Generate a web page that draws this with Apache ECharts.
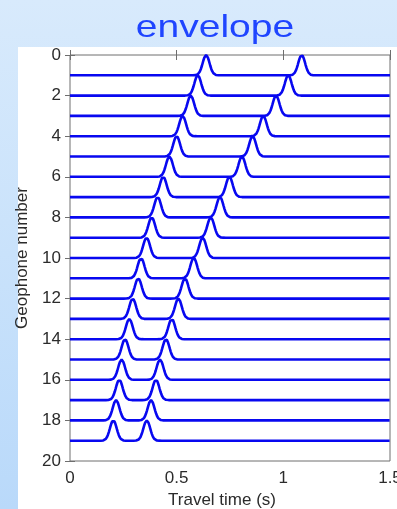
<!DOCTYPE html>
<html>
<head>
<meta charset="utf-8">
<script src="https://cdn.jsdelivr.net/npm/echarts@6/dist/echarts.min.js"></script>
<style>
  html, body { margin: 0; padding: 0; }
  body { width: 397px; height: 509px; overflow: hidden; position: relative;
         background: linear-gradient(to bottom, #d8eafc 0%, #c9e2fb 50%, #b9d9fa 100%); }
  #panel { position: absolute; left: 18px; top: 47px; width: 379px; height: 462px; background: #ffffff; }
  #chart { position: absolute; left: 0; top: 0; width: 397px; height: 509px; }
</style>
</head>
<body>
<div id="panel"></div>
<div id="chart"></div>
<script>
// Geophone baselines (y position of each trace)
const geophones = [1, 2, 3, 4, 5, 6, 7, 8, 9, 10, 11, 12, 13, 14, 15, 16, 17, 18, 19];
// Peak times of the first arrival (s)
const firstArrival = [0.638, 0.599, 0.566, 0.528, 0.500, 0.466, 0.437, 0.411, 0.383, 0.359,
                      0.333, 0.320, 0.294, 0.278, 0.258, 0.242, 0.231, 0.216, 0.203];
// Peak times of the second arrival (s)
const secondArrival = [1.086, 1.023, 0.966, 0.906, 0.856, 0.806, 0.747, 0.703, 0.660, 0.622,
                       0.580, 0.539, 0.508, 0.477, 0.450, 0.422, 0.403, 0.380, 0.360];
// Axis ranges
const xRange = [0, 1.5];
const yRange = [0, 20];
const pulseWidth = 0.016;  // envelope pulse width (s)
const amplitude = 1;       // envelope height in trace units

const chart = echarts.init(document.getElementById('chart'), null, { renderer: 'canvas' });

function envelopeTrace(base, t1, t2) {
  const pts = [];
  const n = 750;
  for (let k = 0; k <= n; k++) {
    const t = xRange[0] + (xRange[1] - xRange[0]) * k / n;
    const e = Math.exp(-0.5 * Math.pow((t - t1) / pulseWidth, 2)) +
              Math.exp(-0.5 * Math.pow((t - t2) / pulseWidth, 2));
    pts.push([t, base - amplitude * e]);
  }
  return pts;
}

const series = geophones.map((g, i) => ({
  type: 'line',
  name: 'Geophone ' + g,
  data: envelopeTrace(g, firstArrival[i], secondArrival[i]),
  showSymbol: false,
  symbol: 'none',
  smooth: false,
  lineStyle: { color: '#0808f0', width: 2.6 },
  animation: false,
  z: 3
}));

const tickColor = '#6e6e6e';
const labelStyle = { color: '#2b2b2b', fontSize: 17, fontFamily: 'Liberation Sans, Arial, sans-serif' };

chart.setOption({
  animation: false,
  backgroundColor: 'transparent',
  grid: { left: 70, right: 7, top: 55, bottom: 48, containLabel: false, outerBoundsMode: 'none',
          show: true, borderColor: tickColor, borderWidth: 1, backgroundColor: 'transparent' },
  graphic: [{
    type: 'text',
    x: 215, y: 28,
    scaleX: 1.22,
    style: {
      text: 'envelope',
      fill: '#1f45ff',
      font: '32px "Liberation Sans", Arial, sans-serif',
      textAlign: 'center',
      textVerticalAlign: 'middle'
    },
    z: 10
  }],
  xAxis: [{
    type: 'value', min: xRange[0], max: xRange[1], interval: 0.5, position: 'bottom',
    name: 'Travel time (s)', nameLocation: 'middle', nameGap: 28,
    nameTextStyle: { color: '#2b2b2b', fontSize: 17, fontFamily: 'Liberation Sans, Arial, sans-serif', padding: [0, 16, 0, 0] },
    axisLine: { show: false },
    axisTick: { show: true, inside: true, length: 5, lineStyle: { color: tickColor } },
    axisLabel: Object.assign({ margin: 9, showMaxLabel: true, formatter: v => String(v) }, labelStyle),
    splitLine: { show: false }
  }, {
    type: 'value', min: xRange[0], max: xRange[1], interval: 0.5, position: 'top',
    axisLine: { show: false },
    axisTick: { show: true, inside: true, length: 5, lineStyle: { color: tickColor } },
    axisLabel: { show: false },
    splitLine: { show: false }
  }],
  yAxis: [{
    type: 'value', min: yRange[0], max: yRange[1], interval: 2, inverse: true, position: 'left',
    name: 'Geophone number', nameLocation: 'middle', nameGap: 35,
    nameTextStyle: { color: '#2b2b2b', fontSize: 17, fontFamily: 'Liberation Sans, Arial, sans-serif' },
    axisLine: { show: false },
    axisTick: { show: true, inside: true, length: 5, lineStyle: { color: tickColor } },
    axisLabel: Object.assign({ margin: 9 }, labelStyle),
    splitLine: { show: false }
  }, {
    type: 'value', min: yRange[0], max: yRange[1], interval: 2, inverse: true, position: 'right',
    axisLine: { show: false },
    axisTick: { show: true, inside: true, length: 5, lineStyle: { color: tickColor } },
    axisLabel: { show: false },
    splitLine: { show: false }
  }],
  series: series
});
</script>
</body>
</html>
